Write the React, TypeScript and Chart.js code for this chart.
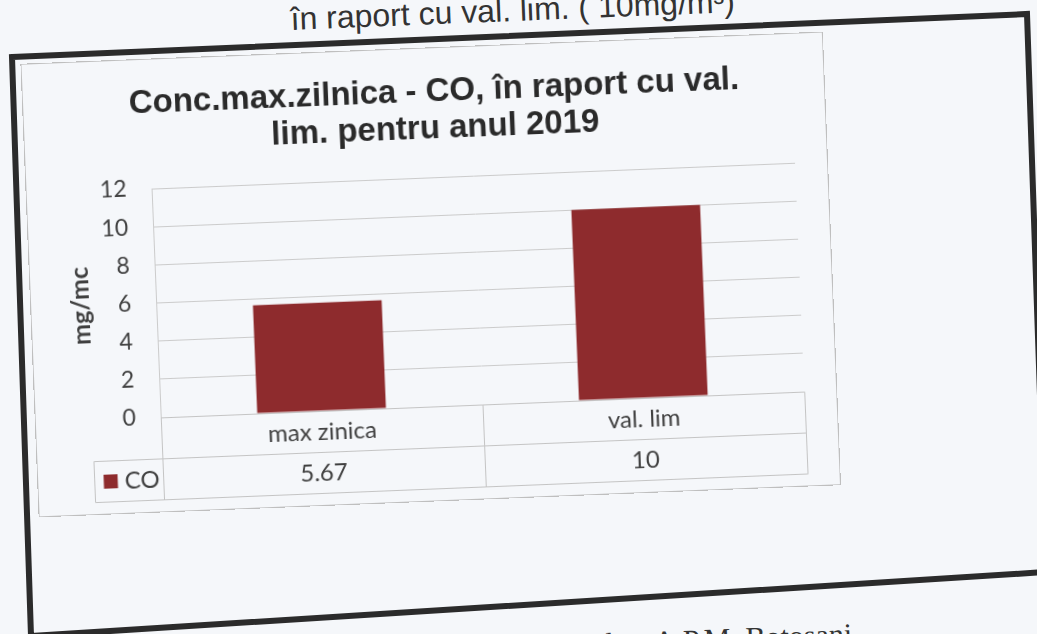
import React, { useEffect, useRef } from "react";
import { Chart, registerables } from "chart.js";

Chart.register(...registerables);

// ---- data ----
const categories = ["max zinica", "val. lim"];
const seriesName = "CO";
const coValues = [5.67, 10];
const tableValueLabels = ["5.67", "10"];
const yTicks = [0, 2, 4, 6, 8, 10, 12];
const titleLines = ["Conc.max.zilnica - CO, în raport cu val.", "lim. pentru anul 2019"];
const yAxisTitle = "mg/mc";
const headerText = "în raport cu val. lim. ( 10mg/m³)";
const footerText = "date A.P.M. Botosani";

// ---- style ----
const BAR = "#8e2b2d";
const GRID = "#cbcbcb";
const TABLE_LINE = "#c4c4c4";
const TEXT = "#404040";
const PAPER = "#f5f7fa";

const tablePlugin = {
  id: "dataTable",
  afterDraw(chart: any) {
    const { ctx, chartArea, scales } = chart;
    const xs = scales.x;
    const top = Math.round(chartArea.bottom) + 0.5;
    const rowH = 41;
    const left = Math.round(chartArea.left) + 0.5;
    const right = Math.round(chartArea.right) + 0.5;
    const legendLeft = left - 69;
    const centers = categories.map((_, i) => xs.getPixelForTick(i));
    const bounds = [left];
    for (let i = 0; i < centers.length - 1; i++) bounds.push(Math.round((centers[i] + centers[i + 1]) / 2) + 0.5);
    bounds.push(right);

    ctx.save();
    ctx.strokeStyle = TABLE_LINE;
    ctx.lineWidth = 1;
    const line = (x1: number, y1: number, x2: number, y2: number) => {
      ctx.beginPath();
      ctx.moveTo(x1, y1);
      ctx.lineTo(x2, y2);
      ctx.stroke();
    };
    line(left, top, right, top);
    line(legendLeft, top + rowH, right, top + rowH);
    line(legendLeft, top + 2 * rowH, right, top + 2 * rowH);
    bounds.forEach((b) => line(b, top, b, top + 2 * rowH));
    line(legendLeft, top + rowH, legendLeft, top + 2 * rowH);

    ctx.fillStyle = TEXT;
    ctx.font = "24px Lato";
    ctx.textAlign = "center";
    ctx.textBaseline = "middle";
    categories.forEach((c, i) => ctx.fillText(c, centers[i], top + rowH / 2));
    tableValueLabels.forEach((v, i) => ctx.fillText(v, centers[i], top + rowH * 1.5));

    // legend key
    const midRow2 = top + rowH * 1.5;
    ctx.fillStyle = BAR;
    ctx.fillRect(legendLeft + 9, midRow2 - 7, 14, 14);
    ctx.fillStyle = TEXT;
    ctx.textAlign = "left";
    ctx.fillText(seriesName, legendLeft + 30, midRow2);
    ctx.restore();
  },
};

export default function App() {
  const canvasRef = useRef<HTMLCanvasElement | null>(null);

  useEffect(() => {
    if (!canvasRef.current) return;
    const chart = new Chart(canvasRef.current, {
      type: "bar",
      data: {
        labels: categories,
        datasets: [
          {
            label: seriesName,
            data: coValues,
            backgroundColor: BAR,
            barPercentage: 0.4,
            categoryPercentage: 1,
          },
        ],
      },
      options: {
        animation: false,
        responsive: false,
        maintainAspectRatio: false,
        layout: { padding: { left: 53, right: 32, top: 0, bottom: 12 } },
        plugins: {
          legend: { display: false },
          tooltip: { enabled: false },
          title: {
            display: true,
            text: titleLines,
            color: "#2a2a2a",
            font: { family: "Liberation Sans", size: 33, weight: "bold", lineHeight: 1.1 },
            padding: { top: 26, bottom: 30.4 },
          },
        },
        scales: {
          x: {
            grid: { display: false, drawTicks: false },
            border: { display: false },
            ticks: { display: false },
            afterFit: (s: any) => {
              s.height = 82;
            },
          },
          y: {
            min: 0,
            max: 12,
            afterBuildTicks: (s: any) => {
              s.ticks = yTicks.map((v) => ({ value: v }));
            },
            ticks: { padding: 25, color: TEXT, font: { family: "Lato", size: 23 } },
            grid: { color: GRID, drawTicks: false },
            border: { display: true, color: GRID },
            title: {
              display: true,
              text: yAxisTitle,
              color: TEXT,
              font: { family: "Lato", size: 25, weight: "bold" },
              padding: { top: -18.5, bottom: 0 },
            },
            afterFit: (s: any) => {
              s.width = 72;
            },
          },
        },
      } as any,
      plugins: [tablePlugin],
    });
    return () => chart.destroy();
  }, []);

  return (
    <div
      style={{
        position: "fixed",
        left: 0,
        top: 0,
        width: 1037,
        height: 634,
        overflow: "hidden",
        background: PAPER,
      }}
    >
      <svg
        width={1037}
        height={634}
        style={{ position: "absolute", left: 0, top: 0 }}
      >
        <polygon
          points="12,57 1027,14 1046,572 31,636"
          fill="none"
          stroke="#2b2b2b"
          strokeWidth={6}
        />
      </svg>
      <div
        style={{
          position: "absolute",
          left: 0,
          top: 0,
          width: 1037,
          height: 634,
          transform: "rotate(-2.3deg)",
          transformOrigin: "518px 317px",
        }}
      >
        <div
          style={{
            position: "absolute",
            left: 0,
            width: 1050,
            top: -7,
            textAlign: "center",
            fontFamily: "Liberation Sans, Arial, sans-serif",
            fontSize: 32,
            color: "#333",
            lineHeight: "34px",
            whiteSpace: "nowrap",
          }}
        >
          {headerText}
        </div>
        <div
          style={{
            position: "absolute",
            left: 32,
            top: 45,
            width: 801,
            height: 452,
            outline: "1px solid #bfbfbf",
            background: PAPER,
          }}
        >
          <canvas ref={canvasRef} width={801} height={452} style={{ width: 801, height: 452, display: "block" }} />
        </div>
        <div
          style={{
            position: "absolute",
            left: 585,
            top: 630,
            fontFamily: "Liberation Serif, Times New Roman, serif",
            fontSize: 30,
            color: "#333",
            whiteSpace: "nowrap",
          }}
        >
          {footerText}
        </div>
      </div>
    </div>
  );
}
